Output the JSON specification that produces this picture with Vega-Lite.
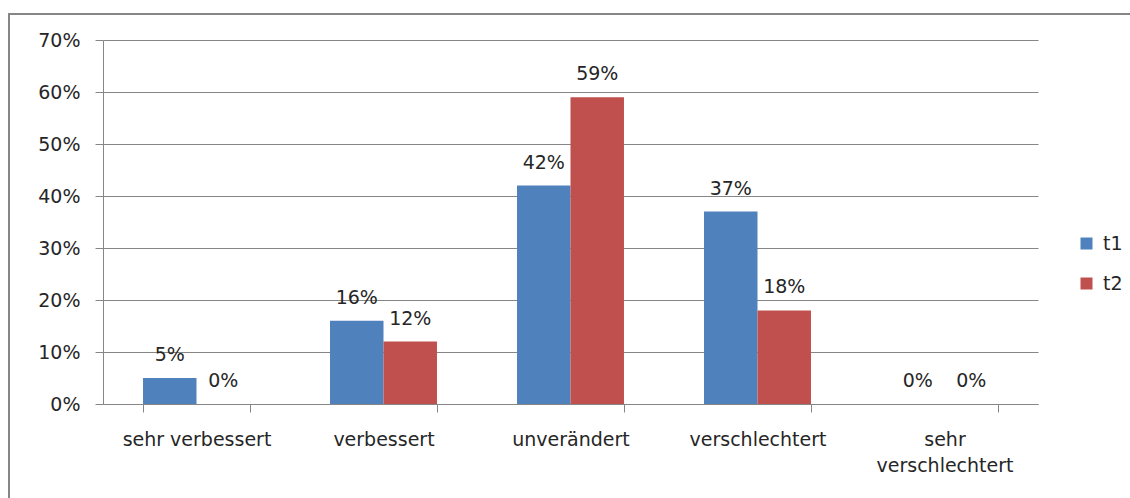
{
  "$schema": "https://vega.github.io/schema/vega-lite/v6.json",
  "autosize": "none",
  "width": 1125,
  "height": 490,
  "padding": {"left": 9, "top": 14, "right": 0, "bottom": 0},
  "background": "white",
  "config": {
    "view": {"stroke": "#868686", "strokeWidth": 2},
    "font": "DejaVu Sans",
    "axis": {"labelFont": "DejaVu Sans", "labelColor": "#262626", "labelFontSize": 19}
  },
  "data": {
    "values": [
      {"kategorie": "sehr verbessert", "serie": "t1", "wert": 0.05},
      {"kategorie": "sehr verbessert", "serie": "t2", "wert": 0.0},
      {"kategorie": "verbessert", "serie": "t1", "wert": 0.16},
      {"kategorie": "verbessert", "serie": "t2", "wert": 0.12},
      {"kategorie": "unverändert", "serie": "t1", "wert": 0.42},
      {"kategorie": "unverändert", "serie": "t2", "wert": 0.59},
      {"kategorie": "verschlechtert", "serie": "t1", "wert": 0.37},
      {"kategorie": "verschlechtert", "serie": "t2", "wert": 0.18},
      {"kategorie": "sehr verschlechtert", "serie": "t1", "wert": 0.0},
      {"kategorie": "sehr verschlechtert", "serie": "t2", "wert": 0.0}
    ]
  },
  "encoding": {
    "x": {
      "field": "kategorie",
      "type": "nominal",
      "sort": ["sehr verbessert", "verbessert", "unverändert", "verschlechtert", "sehr verschlechtert"],
      "scale": {"range": [94, 1029], "paddingInner": 0.428, "paddingOuter": 0.214},
      "axis": {
        "title": null,
        "labelAngle": 0,
        "offset": -100,
        "tickBand": "extent",
        "tickSize": 8,
        "tickColor": "#868686",
        "domainColor": "#868686",
        "labelPadding": 18,
        "labelLineHeight": 26,
        "labelBaseline": "top",
        "labelExpr": "datum.value == 'sehr verschlechtert' ? ['sehr', 'verschlechtert'] : datum.value"
      }
    },
    "xOffset": {
      "field": "serie",
      "type": "nominal",
      "scale": {"paddingInner": 0, "paddingOuter": 0}
    },
    "y": {
      "field": "wert",
      "type": "quantitative",
      "scale": {"domain": [0, 0.7], "range": [390, 26], "nice": false, "zero": true},
      "axis": {
        "title": null,
        "offset": -94,
        "values": [0, 0.1, 0.2, 0.3, 0.4, 0.5, 0.6, 0.7],
        "format": ".0%",
        "grid": true,
        "gridColor": "#868686",
        "gridOpacity": 1,
        "tickSize": 8,
        "tickColor": "#868686",
        "domainColor": "#868686",
        "labelPadding": 15
      }
    }
  },
  "layer": [
    {
      "mark": {"type": "bar"},
      "encoding": {
        "color": {
          "field": "serie",
          "type": "nominal",
          "scale": {"domain": ["t1", "t2"], "range": ["#4F81BD", "#C0504D"]},
          "legend": {
            "title": null,
            "orient": "none",
            "legendX": 1068,
            "legendY": 220,
            "symbolType": "square",
            "symbolSize": 144,
            "symbolStrokeWidth": 0,
            "labelFontSize": 19,
            "labelFont": "DejaVu Sans",
            "labelColor": "#262626",
            "labelOffset": 7,
            "rowPadding": 20
          }
        }
      }
    },
    {
      "mark": {"type": "text", "baseline": "alphabetic", "dy": -17, "fontSize": 19, "color": "#262626", "font": "DejaVu Sans"},
      "encoding": {
        "text": {"field": "wert", "type": "quantitative", "format": ".0%"}
      }
    }
  ]
}
